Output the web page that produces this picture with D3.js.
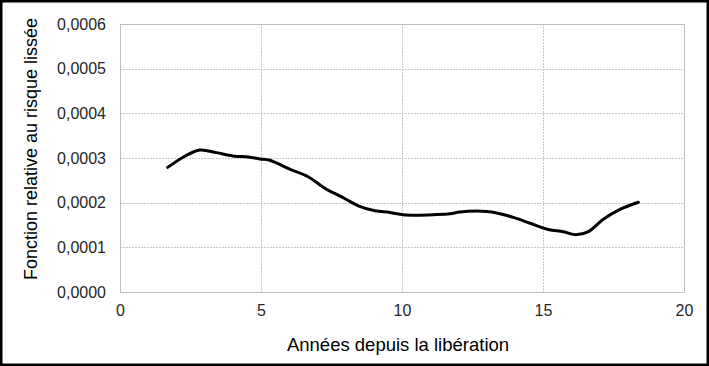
<!DOCTYPE html>
<html lang="fr">
<head>
<meta charset="UTF-8">
<title>Fonction relative au risque lissée</title>
<script src="https://cdnjs.cloudflare.com/ajax/libs/d3/7.8.5/d3.min.js"></script>
<style>
  body { margin: 0; background: #fff; }
  svg { display: block; font-family: "Liberation Sans", Arial, sans-serif; }
  .tick text { fill: #262626; font-size: 16px; }
</style>
</head>
<body>
<script>
// years since release
var years = [1.69, 2.30, 2.83, 3.42, 4.07, 4.48, 4.96, 5.31, 6.02, 6.67, 7.32, 7.86, 8.45, 9.04,
             9.57, 10.04, 10.52, 11.11, 11.70, 12.05, 12.82, 13.18, 13.95, 14.54, 15.19, 15.72,
             16.17, 16.61, 17.14, 17.73, 18.38];
// smoothed relative hazard
var hazard = [0.000279, 0.000304, 0.000318, 0.000312, 0.000304, 0.000303, 0.000298, 0.000295,
              0.000275, 0.000258, 0.000230, 0.000213, 0.000193, 0.000182, 0.000178, 0.000173,
              0.000172, 0.000173, 0.000175, 0.000179, 0.000181, 0.000179, 0.000167, 0.000154,
              0.000140, 0.000135, 0.000128, 0.000135, 0.000163, 0.000185, 0.000201];
var xTicks = [0, 5, 10, 15, 20];
var yTicks = [0, 0.0001, 0.0002, 0.0003, 0.0004, 0.0005, 0.0006];

var W = 709, H = 366;
var margin = {top: 24, right: 25, bottom: 74, left: 120};
var width = W - margin.left - margin.right,
    height = H - margin.top - margin.bottom;

var svg = d3.select("body").append("svg")
    .attr("width", W)
    .attr("height", H);

// chart border
svg.append("rect")
    .attr("x", 1).attr("y", 1)
    .attr("width", W - 2).attr("height", H - 2)
    .attr("fill", "#fff")
    .attr("stroke", "#000")
    .attr("stroke-width", 3);

var g = svg.append("g")
    .attr("transform", "translate(" + margin.left + "," + margin.top + ")");

var x = d3.scaleLinear().domain([0, 20]).range([0, width]);
var y = d3.scaleLinear().domain([0, 0.0006]).range([height, 0]);

// grid lines
g.selectAll(".hgrid")
    .data(yTicks.slice(1, -1))
    .enter().append("line")
    .attr("x1", 0).attr("x2", width)
    .attr("y1", function(d) { return Math.round(y(d)) + 0.5; })
    .attr("y2", function(d) { return Math.round(y(d)) + 0.5; })
    .attr("stroke", "#c6c6c6")
    .attr("stroke-dasharray", "2,1");

g.selectAll(".vgrid")
    .data(xTicks.slice(1, -1))
    .enter().append("line")
    .attr("y1", 0).attr("y2", height)
    .attr("x1", function(d) { return Math.round(x(d)) + 0.5; })
    .attr("x2", function(d) { return Math.round(x(d)) + 0.5; })
    .attr("stroke", "#c6c6c6")
    .attr("stroke-dasharray", "2,1");

// plot area frame
g.append("rect")
    .attr("x", 0.5).attr("y", 0.5)
    .attr("width", width).attr("height", height)
    .attr("fill", "none")
    .attr("stroke", "#bfbfbf");

// axes
var fmt = function(d) { return d3.format(".4f")(d).replace(".", ","); };

var yAxis = g.append("g")
    .call(d3.axisLeft(y).tickValues(yTicks).tickFormat(fmt).tickSize(0).tickPadding(14));
yAxis.select(".domain").remove();

var xAxis = g.append("g")
    .attr("transform", "translate(0," + height + ")")
    .call(d3.axisBottom(x).tickValues(xTicks).tickSize(0).tickPadding(13));
xAxis.select(".domain").remove();

// curve
var line = d3.line()
    .x(function(d, i) { return x(years[i]); })
    .y(function(d) { return y(d); })
    .curve(d3.curveCatmullRom);

g.append("path")
    .datum(hazard)
    .attr("fill", "none")
    .attr("stroke", "#000")
    .attr("stroke-width", 3)
    .attr("stroke-linejoin", "round")
    .attr("stroke-linecap", "round")
    .attr("d", line);

// axis titles
svg.append("text")
    .attr("x", 398)
    .attr("y", 351)
    .attr("text-anchor", "middle")
    .style("font-size", "18.5px")
    .style("fill", "#000")
    .text("Années depuis la libération");

svg.append("text")
    .attr("transform", "translate(37,149) rotate(-90)")
    .attr("text-anchor", "middle")
    .style("font-size", "18px")
    .style("fill", "#000")
    .text("Fonction relative au risque lissée");
</script>
</body>
</html>
